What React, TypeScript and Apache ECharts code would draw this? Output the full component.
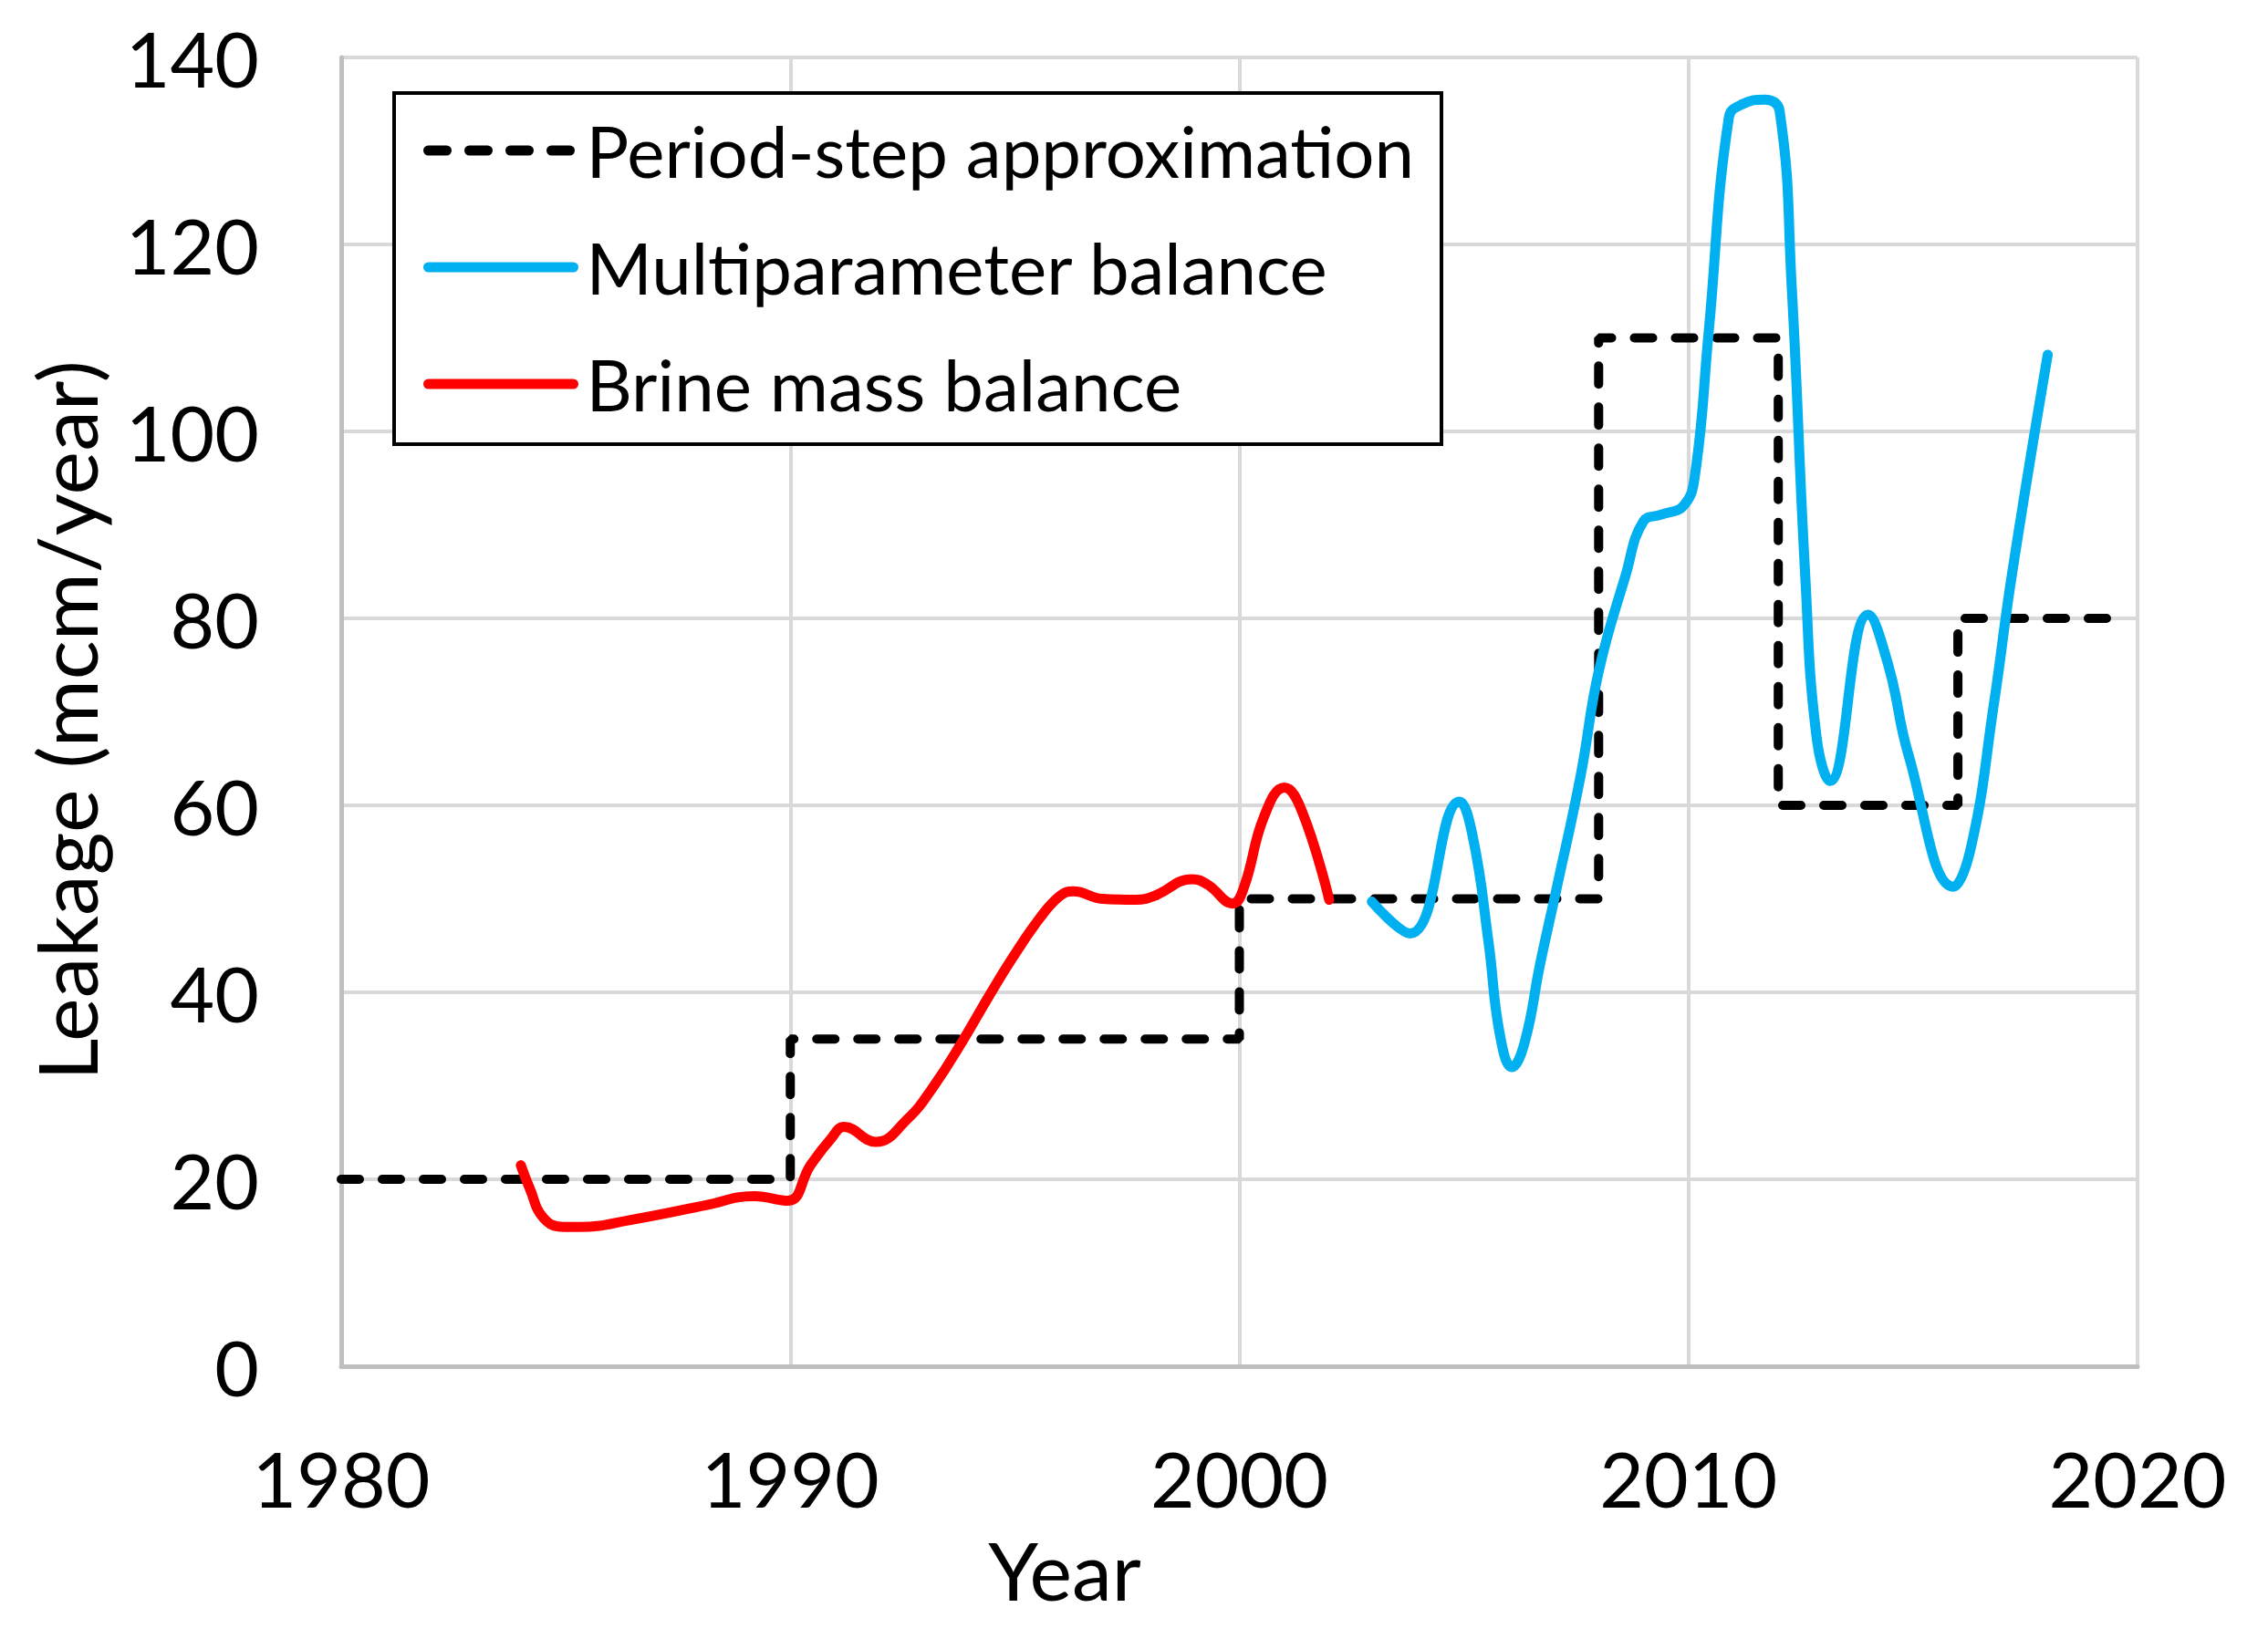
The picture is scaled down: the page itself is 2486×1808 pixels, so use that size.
import React, { useEffect, useRef } from "react";
import * as echarts from "echarts";

const xTicks = [1980, 1990, 2000, 2010, 2020];
const yTicks = [0, 20, 40, 60, 80, 100, 120, 140];

const stepYears = [1980, 1990, 1990, 2000, 2000, 2008, 2008, 2012, 2012, 2016, 2016, 2019.8];
const stepValues = [20, 20, 35, 35, 50, 50, 110, 110, 60, 60, 80, 80];

const brineYears = [
  1984.0, 1984.2, 1984.5, 1984.95, 1985.3, 1986.5, 1988.1, 1989.2, 1989.95, 1990.45,
  1990.9, 1991.2, 1991.9, 1992.6, 1993.2, 1993.85, 1994.4, 1994.95, 1995.55, 1996.0,
  1996.3, 1996.95, 1997.7, 1998.1, 1998.95, 1999.3, 1999.85, 2000.1, 2000.55, 2001.0,
  2001.4, 2002.0,
];
const brineValues = [
  21.5, 19.0, 15.9, 14.9, 14.9, 15.7, 17.2, 18.2, 17.7, 21.5,
  24.3, 25.6, 24.0, 26.4, 30.0, 34.9, 39.4, 43.7, 47.9, 50.3,
  50.8, 50.0, 49.9, 50.3, 52.1, 51.5, 49.5, 51.2, 58.8, 61.9,
  59.3, 49.9,
];

const multiYears = [
  2002.95, 2003.8, 2004.9, 2005.2, 2005.55, 2005.8, 2006.07, 2006.35,
  2006.7, 2007.05, 2007.6, 2008.0, 2008.6, 2009.0, 2009.4, 2009.9, 2010.15, 2010.45,
  2010.9, 2011.2, 2011.7, 2012.03, 2012.3, 2012.6, 2012.85, 2013.15, 2014.0,
  2014.45, 2014.9, 2015.9, 2016.3, 2016.8, 2017.2, 2018.0,
];
const multiValues = [
  49.7, 46.3, 60.4, 56.6, 45.3, 35.5, 32.0, 34.6,
  43.1, 50.8, 63.2, 74.3, 84.6, 90.4, 91.1, 92.1, 95.5, 110.6,
  133.6, 135.0, 135.5, 134.3, 115.4, 84.6, 67.4, 62.6, 80.4,
  75.0, 65.4, 51.3, 55.7, 70.8, 84.6, 108.2,
];

const seriesNames = ["Period-step approximation", "Multiparameter balance", "Brine mass balance"];
const xTitle = "Year";
const yTitle = "Leakage (mcm/year)";

const zip = (xs: number[], ys: number[]) => xs.map((x, i) => [x, ys[i]]);

const FONT = "Lato";

export default function App() {
  const ref = useRef<HTMLDivElement>(null);
  useEffect(() => {
    if (!ref.current) return;
    const chart = echarts.init(ref.current, null, { renderer: "svg" });
    chart.setOption({
      animation: false,
      backgroundColor: "#ffffff",
      grid: { left: 374, top: 63, width: 1969, height: 1435, containLabel: false },
      xAxis: {
        type: "value",
        min: xTicks[0],
        max: xTicks[xTicks.length - 1],
        interval: 10,
        axisLine: { show: true, lineStyle: { color: "#bfbfbf", width: 5 } },
        axisTick: { show: false },
        axisLabel: { margin: 80, fontSize: 84, fontFamily: FONT, color: "#000", formatter: (v: number) => String(v) },
        splitLine: { show: true, lineStyle: { color: "#d9d9d9", width: 4 } },
      },
      yAxis: {
        type: "value",
        min: yTicks[0],
        max: yTicks[yTicks.length - 1],
        interval: 20,
        axisLine: { show: true, lineStyle: { color: "#bfbfbf", width: 5 } },
        axisTick: { show: false },
        axisLabel: { margin: 90, fontSize: 84, fontFamily: FONT, color: "#000", formatter: (v: number) => String(v) },
        splitLine: { show: true, lineStyle: { color: "#d9d9d9", width: 4 } },
      },
      legend: {
        orient: "vertical",
        left: 464,
        top: 125,
        padding: 0,
        itemWidth: 159,
        itemHeight: 20,
        itemGap: 48,
        z: 10,
        itemStyle: { color: "rgba(0,0,0,0)", borderWidth: 0 },
        lineStyle: { width: 11 },
        textStyle: { fontSize: 78, fontFamily: FONT, color: "#000", lineHeight: 80, padding: [0, 0, 0, 9] },
        data: seriesNames,
      },
      graphic: {
        elements: [
          {
            type: "rect",
            z: 3,
            shape: { x: 432, y: 102, width: 1148, height: 385 },
            style: { fill: "#ffffff", stroke: "#000000", lineWidth: 4 },
          },
          {
            type: "text",
            z: 10,
            x: 1167,
            y: 1721,
            style: { text: xTitle, fontSize: 88, fontFamily: FONT, fill: "#000", textAlign: "center", textVerticalAlign: "middle" },
          },
          {
            type: "text",
            z: 10,
            x: 72,
            y: 790,
            rotation: Math.PI / 2,
            style: { text: yTitle, fontSize: 90, fontFamily: FONT, fill: "#000", textAlign: "center", textVerticalAlign: "middle" },
          },
        ],
      },
      series: [
        {
          name: seriesNames[0],
          type: "line",
          data: zip(stepYears, stepValues),
          symbol: "none",
          smooth: false,
          z: 2,
          lineStyle: { color: "#000000", width: 10, type: [20, 25], cap: "round" },
          itemStyle: { color: "#000000" },
        },
        {
          name: seriesNames[1],
          type: "line",
          data: zip(multiYears, multiValues),
          symbol: "none",
          smooth: 0.45,
          z: 2,
          lineStyle: { color: "#00b0f0", width: 11, cap: "round", join: "round" },
          itemStyle: { color: "#00b0f0" },
        },
        {
          name: seriesNames[2],
          type: "line",
          data: zip(brineYears, brineValues),
          symbol: "none",
          smooth: 0.45,
          z: 2,
          lineStyle: { color: "#ff0000", width: 11, cap: "round", join: "round" },
          itemStyle: { color: "#ff0000" },
        },
      ],
    });
    return () => chart.dispose();
  }, []);
  return <div ref={ref} style={{ position: "fixed", left: 0, top: 0, width: 2486, height: 1808 }} />;
}
